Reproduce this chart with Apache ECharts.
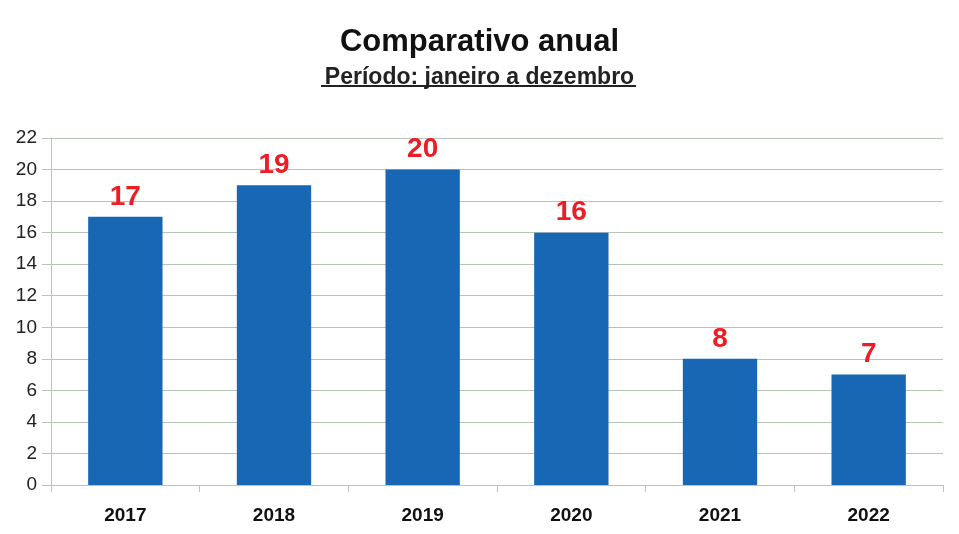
<!DOCTYPE html>
<html><head><meta charset="utf-8">
<script src="https://cdn.jsdelivr.net/npm/echarts@6/dist/echarts.min.js"></script>
<style>html,body{margin:0;padding:0;background:#fff}#c{width:959px;height:534px}</style>
</head><body><div id="c"></div>
<script>
const categories = ['2017','2018','2019','2020','2021','2022'];
const values = [17, 19, 20, 16, 8, 7];
const yTicks = [0,2,4,6,8,10,12,14,16,18,20,22];

const chart = echarts.init(document.getElementById('c'), null, {renderer:'canvas'});
chart.setOption({
  backgroundColor:'#ffffff',
  animation:false,
  title:[
    {text:'Comparativo anual', left:'center', top:22,
     textStyle:{fontFamily:'Liberation Sans', fontWeight:'bold', fontSize:31, color:'#111'}},
    {text:'Período: janeiro a dezembro', left:'center', top:61,
     textStyle:{fontFamily:'Liberation Sans', fontWeight:'bold', fontSize:23, color:'#222'}}
  ],
  graphic:[{type:'line', shape:{x1:321,y1:86,x2:636,y2:86}, style:{stroke:'#222', lineWidth:2}}],
  grid:{left:51, right:16, top:138, bottom:49, containLabel:false},
  xAxis:{type:'category', data:categories,
    axisLine:{show:true, lineStyle:{color:'#b8c4b8', width:1}},
    axisTick:{show:true, length:7, lineStyle:{color:'#b8c4b8'}},
    axisLabel:{margin:21, fontFamily:'Liberation Sans', fontWeight:'bold', fontSize:19, color:'#111'}},
  yAxis:{type:'value', min:yTicks[0], max:yTicks[yTicks.length-1], interval:2,
    axisLine:{show:true, lineStyle:{color:'#b8c4b8', width:1}},
    axisTick:{show:true, length:9, lineStyle:{color:'#b8c4b8'}},
    splitLine:{show:true, lineStyle:{color:'#b8c4b8', width:1}},
    axisLabel:{margin:14, fontFamily:'Liberation Sans', fontSize:19, color:'#222'}},
  series:[{type:'bar', data:values, barWidth:'50%',
    itemStyle:{color:'#1767b4'},
    label:{show:true, position:'top', distance:6, fontFamily:'Liberation Sans', fontWeight:'bold', fontSize:28, color:'#ee1c25'}}]
});
</script></body></html>
